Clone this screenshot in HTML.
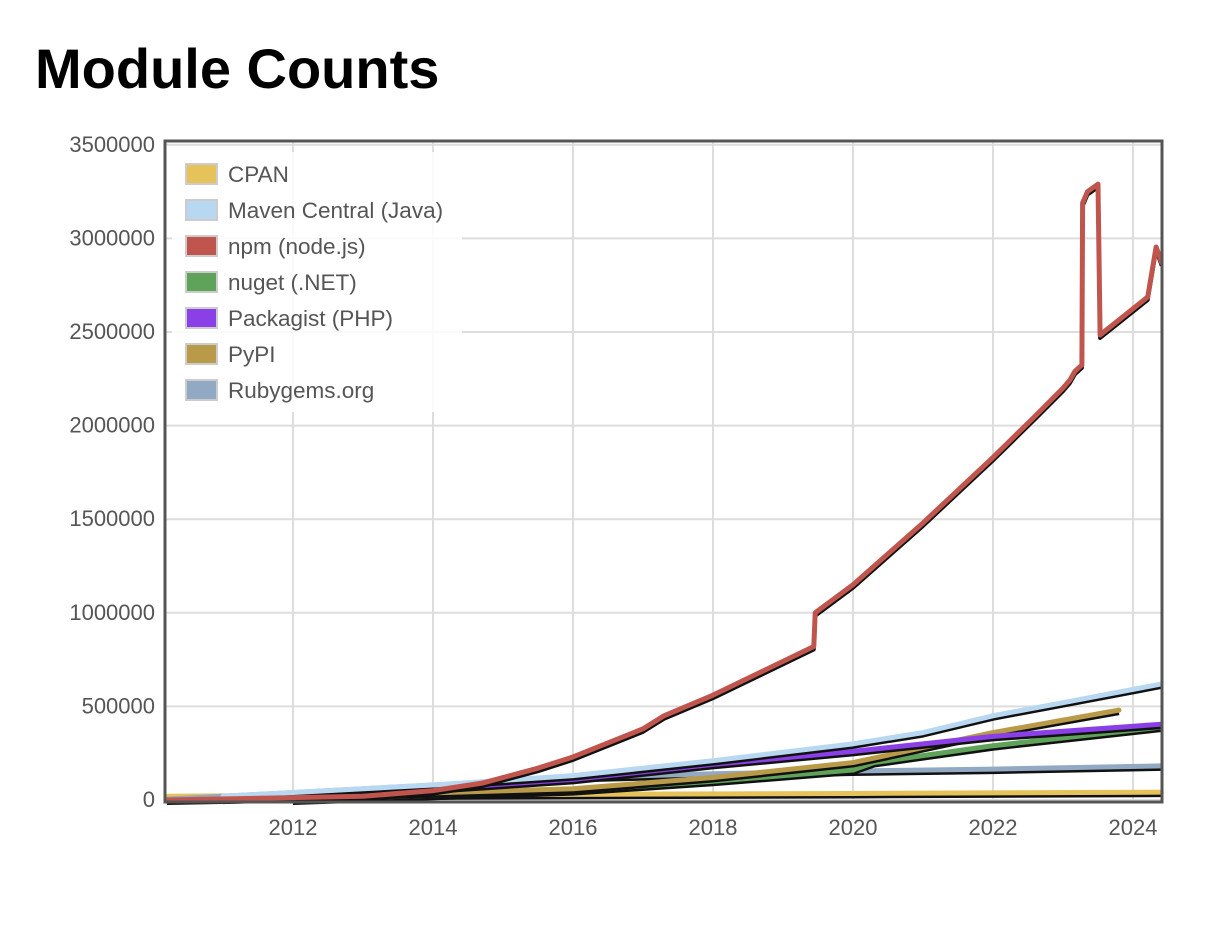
<!DOCTYPE html>
<html><head><meta charset="utf-8"><style>
body{margin:0;background:#fff;width:1218px;height:932px;overflow:hidden;font-family:"Liberation Sans",sans-serif}
h1{position:absolute;left:35px;top:36px;margin:0;font-size:56px;font-weight:bold;color:#000}
</style></head><body>
<h1>Module Counts</h1>
<svg id="c" width="1218" height="932" style="position:absolute;left:0;top:0"></svg>
<script>
const yTicks=[0,500000,1000000,1500000,2000000,2500000,3000000,3500000];
const xTicks=[2012,2014,2016,2018,2020,2022,2024];
const seriesNames=["CPAN","Maven Central (Java)","npm (node.js)","nuget (.NET)","Packagist (PHP)","PyPI","Rubygems.org"];
const seriesColors=["#e6c35a","#b8d8f2","#c0554e","#5fa35a","#8a40e6","#b89a48","#91a9c2"];
const cpanX=[2010.2,2012,2016,2020,2024.41];
const cpanY=[20000,25000,30000,35000,42000];
const mavenX=[2011,2014,2016,2018,2020,2021,2022,2023,2024.41];
const mavenY=[20000,80000,130000,210000,300000,360000,450000,520000,620000];
const npmX=[2010.2,2013,2014,2014.7,2015.5,2016,2017,2017.3,2018,2019.44,2019.46,2020,2021,2022,2022.6,2023,2023.1,2023.17,2023.27,2023.28,2023.35,2023.5,2023.53,2024.21,2024.33,2024.41];
const npmY=[0,20000,50000,90000,170000,230000,380000,450000,560000,820000,1000000,1150000,1480000,1830000,2050000,2200000,2244000,2290000,2324000,3189000,3250000,3290000,2484000,2687000,2954000,2870000];
const nugetX=[2012,2016,2018,2020,2020.3,2022,2024.41];
const nugetY=[0,50000,100000,160000,200000,290000,390000];
const packX=[2012,2016,2018,2020,2021,2022,2024.41];
const packY=[10000,110000,190000,260000,300000,340000,405000];
const pypiX=[2011,2016,2018,2020,2021,2022,2023.8];
const pypiY=[5000,60000,120000,200000,280000,360000,480000];
const rubyX=[2010.2,2011,2014,2016,2018,2020,2022,2024.41];
const rubyY=[5000,20000,80000,120000,140000,155000,165000,182000];
const L=165,R=1162,T=141,B=802;
const xs=v=>293+(v-2012)*70;
const ys=v=>800-v/500000*93.6;
const svg=document.getElementById('c');
const NS='http://www.w3.org/2000/svg';
function mk(t,a,p){const e=document.createElementNS(NS,t);for(const k in a)e.setAttribute(k,a[k]);(p||svg).appendChild(e);return e;}
for(const v of yTicks){const y=ys(v);
const g=mk('line',{x1:L,x2:R,y1:y,y2:y,stroke:'#ddd','stroke-width':2});


const t=mk('text',{x:155,y:y+7,'text-anchor':'end','font-size':22,fill:'#555'});t.textContent=v;

}
for(const v of xTicks){const x=xs(v);
const g=mk('line',{x1:x,x2:x,y1:T,y2:B,stroke:'#ddd','stroke-width':2});


const t=mk('text',{x:x,y:835,'text-anchor':'middle','font-size':22,fill:'#555'});t.textContent=v;

}
const clip=mk('clipPath',{id:'cp'});mk('rect',{x:L,y:T,width:R-L,height:B-T},clip);
const series=[[cpanX,cpanY],[rubyX,rubyY],[nugetX,nugetY],[pypiX,pypiY],[packX,packY],[mavenX,mavenY],[npmX,npmY]];
const idx=[0,6,3,5,4,1,2];
series.forEach((s,i)=>{const d=s[0].map((x,j)=>(j?'L':'M')+xs(x)+','+ys(s[1][j])).join('');
const sh=mk('path',{d:d,fill:'none',stroke:'#111','stroke-width':4,transform:'translate(0,3)','clip-path':'url(#cp)','stroke-linejoin':'round'});


const p=mk('path',{d:d,fill:'none',stroke:seriesColors[idx[i]],'stroke-width':5,'clip-path':'url(#cp)','stroke-linejoin':'round','stroke-linecap':'round'});

});
const lb=mk('rect',{x:172,y:152,width:290,height:260,fill:'#fff','fill-opacity':0.85});


seriesNames.forEach((n,i)=>{const y=164+i*36;
const r=mk('rect',{x:186,y:y,width:31,height:20,fill:seriesColors[i],stroke:'#ccc','stroke-width':2});


const t=mk('text',{x:228,y:y+18,'font-size':22.5,fill:'#555'});t.textContent=n;

});
const f=mk('rect',{x:L,y:T,width:R-L,height:B-T,fill:'none',stroke:'#555','stroke-width':3});


</script>
</body></html>
